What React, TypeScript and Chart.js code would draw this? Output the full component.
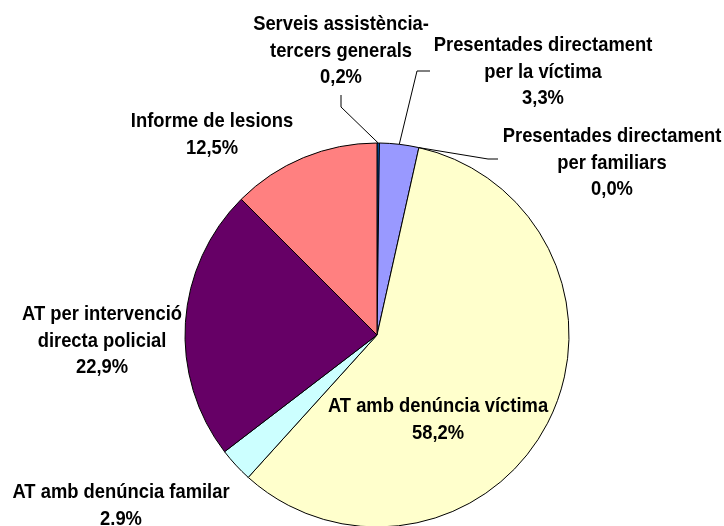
import React, { useEffect, useRef } from "react";
import { Chart, registerables } from "chart.js";

Chart.register(...registerables);

const categories = [
  "Serveis assistència-tercers generals",
  "Presentades directament per la víctima",
  "Presentades directament per familiars",
  "AT amb denúncia víctima",
  "AT amb denúncia familar",
  "AT per intervenció directa policial",
  "Informe de lesions",
];
const values = [0.2, 3.3, 0.0, 58.2, 2.9, 22.9, 12.5];
const valueLabels = ["0,2%", "3,3%", "0,0%", "58,2%", "2.9%", "22,9%", "12,5%"];
const labelLines = [
  ["Serveis assistència-", "tercers generals"],
  ["Presentades directament", "per la víctima"],
  ["Presentades directament", "per familiars"],
  ["AT amb denúncia víctima"],
  ["AT amb denúncia familar"],
  ["AT per intervenció", "directa policial"],
  ["Informe de lesions"],
];
const colors = ["#0066CC", "#9999FF", "#FFFFFF", "#FFFFCC", "#CCFFFF", "#660066", "#FF8080"];

// label layout: center x, first baseline y, leader elbow points (null = no leader)
const labelPos = [
  { x: 341, y: 30, leader: [[341, 107], [341, 95]] },
  { x: 543, y: 51, leader: [[417, 71], [430, 71]] },
  { x: 612, y: 142, leader: [[488, 159], [498, 159]] },
  { x: 438, y: 412, leader: null },
  { x: 121, y: 498, leader: null },
  { x: 102, y: 320, leader: null },
  { x: 212, y: 127, leader: null },
];

const FONT = "bold 21px 'Liberation Sans Narrow', 'Liberation Sans', Arial, sans-serif";
const X_SCALE = 0.875;
const LINE_H = 26.5;

const labelPlugin = {
  id: "pieLabels",
  afterDatasetsDraw(chart: any) {
    const ctx = chart.ctx as CanvasRenderingContext2D;
    const meta = chart.getDatasetMeta(0);
    ctx.save();
    ctx.strokeStyle = "#000";
    ctx.lineWidth = 1;
    meta.data.forEach((arc: any, i: number) => {
      const p = labelPos[i];
      if (!p.leader) return;
      const { x, y, startAngle, endAngle, outerRadius } = arc.getProps(
        ["x", "y", "startAngle", "endAngle", "outerRadius"],
        true
      );
      const mid = (startAngle + endAngle) / 2;
      const ex = x + Math.cos(mid) * outerRadius;
      const ey = y + Math.sin(mid) * outerRadius;
      ctx.beginPath();
      ctx.moveTo(ex, ey);
      p.leader.forEach(([lx, ly]) => ctx.lineTo(lx, ly));
      ctx.stroke();
    });
    ctx.fillStyle = "#000";
    ctx.font = FONT;
    ctx.textAlign = "center";
    ctx.textBaseline = "alphabetic";
    labelLines.forEach((lines, i) => {
      const p = labelPos[i];
      const all = [...lines, valueLabels[i]];
      all.forEach((t, k) => {
        ctx.save();
        ctx.translate(p.x, p.y + k * LINE_H);
        ctx.scale(X_SCALE, 1);
        ctx.fillText(t, 0, 0);
        ctx.restore();
      });
    });
    ctx.restore();
  },
};

export default function App() {
  const ref = useRef<HTMLCanvasElement>(null);
  useEffect(() => {
    if (!ref.current) return;
    const chart = new Chart(ref.current, {
      type: "pie",
      data: {
        labels: categories,
        datasets: [
          {
            data: values,
            backgroundColor: colors,
            borderColor: "#000",
            borderWidth: 1,
            hoverOffset: 0,
            offset: 0,
          },
        ],
      },
      options: {
        animation: false,
        responsive: false,
        radius: 192,
        layout: { padding: { left: 185, right: 155, top: 143, bottom: 33 } },
        plugins: { legend: { display: false }, tooltip: { enabled: false } },
        events: [],
      } as any,
      plugins: [labelPlugin],
    });
    return () => chart.destroy();
  }, []);
  return (
    <div style={{ position: "absolute", left: 0, top: 0, width: 724, height: 560, background: "#fff" }}>
      <canvas ref={ref} width={724} height={560} style={{ display: "block" }} />
    </div>
  );
}
